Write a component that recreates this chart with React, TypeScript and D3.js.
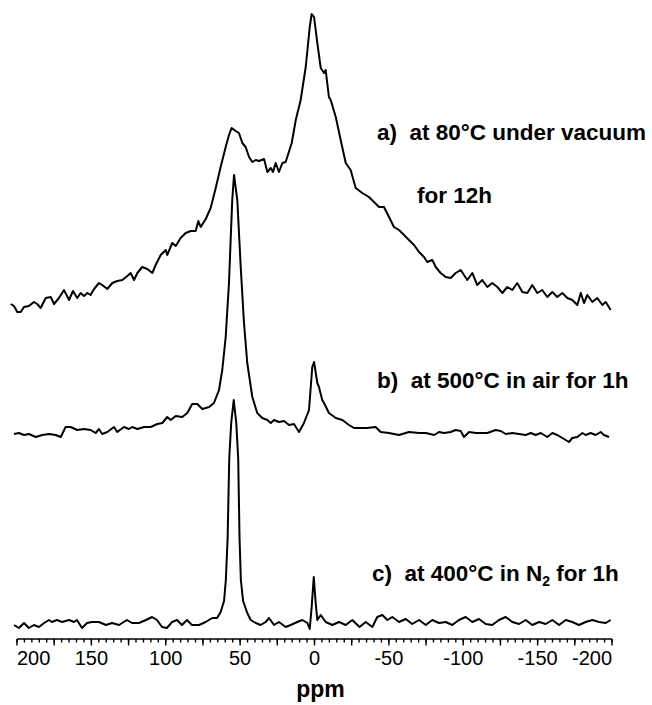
import React, { useEffect } from 'react';
import * as d3 from 'd3';

const WIDTH = 652;
const HEIGHT = 705;

// axis ticks (ppm)
const tickLabels = [200, 150, 100, 50, 0, -50, -100, -150, -200];
const majorTicks = d3.range(200, -201, -25);
const minorTicks = d3.range(200, -201, -5);

// vertical stacking offsets of the three spectra (a.u.)
const offsetA = 330;
const offsetB = 206;
const offsetC = 16;

// a) 80°C under vacuum, 12h  [ppm, intensity]
const specA: [number, number][] = [
  [204.2, 5], [202, 3], [199.8, -3], [197.5, -3], [195.3, 2], [192, 3], [188.6, 7], [186.4, 5], [184.1, 1],
  [180.7, 11], [177.3, 12], [175.1, 5], [171.8, 11], [168.4, 19], [165, 9], [162.4, 18], [159.5, 11],
  [157.2, 16], [155, 13], [152.7, 16], [150.5, 14], [148.2, 20], [144.9, 26], [142.7, 24], [139.3, 20],
  [135.9, 26], [132.6, 28], [129.2, 29], [125.8, 33], [123.6, 36], [121.3, 29], [119.1, 36], [115.8, 42],
  [112.4, 40], [109, 36], [106.8, 44], [103.4, 54], [100, 59], [99, 54], [95.6, 66], [93.3, 63], [90, 71],
  [86.6, 76], [83.2, 78], [79.9, 78], [78.1, 88], [76.5, 82], [73.1, 90], [69.8, 101], [66.4, 121],
  [63.1, 142], [59.7, 162], [57.5, 174], [55.7, 181], [53, 178], [50.8, 176], [48.5, 166], [46.3, 162],
  [44, 152], [41.8, 147], [39.5, 149], [37.3, 148], [33.9, 150], [31.7, 137], [29.4, 141], [27.9, 137],
  [26.1, 146], [23.9, 137], [21.6, 146], [19.4, 147], [15.3, 166], [12.6, 189], [9.3, 209], [5.9, 242],
  [3.2, 282], [1.9, 295], [0.3, 292], [-1.9, 266], [-4.2, 241], [-6.4, 236], [-7.5, 239], [-9.7, 212],
  [-10.9, 209], [-14.3, 192], [-17.6, 169], [-21, 146], [-24.3, 139], [-27.7, 121], [-32.1, 116],
  [-36.6, 112], [-40, 107], [-43.4, 102], [-46.7, 102], [-50.1, 92], [-53.4, 82], [-56.8, 79], [-60.2, 74],
  [-63.5, 69], [-66.9, 64], [-70.3, 57], [-73.6, 52], [-75.8, 47], [-79.2, 49], [-81.5, 42], [-84.8, 36],
  [-88.2, 32], [-91.6, 31], [-94.9, 36], [-98.3, 39], [-100.5, 34], [-102.7, 29], [-106.1, 36],
  [-109.4, 24], [-112.8, 29], [-116.2, 22], [-119.5, 26], [-122.9, 22], [-126.3, 16], [-129.6, 22],
  [-133, 19], [-136.3, 26], [-139.7, 17], [-143.1, 16], [-146.4, 24], [-149.8, 16], [-153.1, 19],
  [-156.5, 12], [-159.9, 17], [-163.2, 12], [-166.6, 16], [-170, 11], [-173.3, 9], [-176.7, 4], [-179, 16],
  [-181.2, 6], [-183.4, 14], [-186.8, 7], [-190.1, 11], [-193.5, 4], [-195.8, 7], [-199.1, -1],
];

// b) 500°C in air, 1h
const specB: [number, number][] = [
  [202, -1], [198.7, 0], [195.3, -2], [192, -1], [187.4, -4], [183, -2], [178.5, -1], [174, -2], [170.6, -4],
  [167.3, 6], [163.9, 6], [159.5, 3], [155, 4], [150.5, 3], [147.1, 0], [144.9, 4], [142.7, -1], [139.3, 1],
  [134.8, 6], [132.6, 1], [128.1, 6], [124.7, 4], [122.5, 6], [119.1, 4], [114.6, 6], [110.1, 6],
  [105.7, 9], [102.3, 10], [99, 16], [96.7, 13], [93.3, 17], [88.9, 16], [85.5, 20], [82.2, 29], [78.8, 29],
  [75.4, 24], [70.9, 26], [67.6, 30], [64.2, 43], [62, 63], [59.7, 96], [57.5, 150], [55.3, 233],
  [54.1, 258], [51.9, 233], [49.6, 166], [47.4, 110], [45.2, 70], [41.8, 36], [38.5, 20], [35.1, 15],
  [31.7, 13], [29.4, 10], [27.2, 13], [23.9, 11], [20.5, 12], [17.1, 8], [13.8, 9], [10.4, 1], [7.1, 10],
  [3.7, 23], [1.5, 66], [0.3, 71], [-1.9, 50], [-3, 46], [-5.2, 33], [-6.4, 30], [-9.7, 20], [-14.3, 15],
  [-18.7, 13], [-23.2, 8], [-26.6, 5], [-31.1, 5], [-35.3, 5], [-41.1, 6], [-44.5, 1], [-50.1, 0],
  [-56.8, -2], [-63.5, 1], [-70.3, 0], [-74.8, 0], [-80.5, -2], [-83.7, 1], [-87.1, 0], [-91.6, 1],
  [-94.9, 3], [-98.3, 2], [-100.5, -4], [-103.9, 1], [-108.4, 0], [-112.8, 0], [-116.2, 0], [-121.8, 3],
  [-125.2, 2], [-128.5, -1], [-133, 0], [-137.5, -1], [-142, -2], [-145.4, 0], [-148.7, -2], [-152.1, 0],
  [-156.5, -4], [-159.9, 0], [-163.2, -2], [-166.6, -5], [-171.1, -9], [-173.3, -5], [-176.7, -4],
  [-180.1, 0], [-182.3, -2], [-185.7, 0], [-189, -2], [-192.4, 1], [-194.6, -2], [-198, -4],
];

// c) 400°C in N2, 1h
const specC: [number, number][] = [
  [202, -2], [198.7, -5], [195.3, 0], [192, -5], [188.6, -2], [185.2, -4], [181.8, 0], [178.5, 3], [176.5, 1],
  [173.1, 3], [169.7, 1], [165, 3], [161.7, 1], [159.7, 3], [156.3, -5], [152.9, 0], [149.6, 1], [144.9, 1],
  [140.2, -2], [136.1, 0], [131.4, -2], [126.1, 3], [122.7, 0], [118, 0], [113.3, 3], [109.2, 6],
  [105.9, 3], [102.5, -4], [99.2, -5], [95.8, 1], [92.4, 3], [89.1, -2], [85.7, 3], [82.4, -2], [77.6, -2],
  [73.2, 1], [68.7, 5], [65.5, 5], [63.1, 11], [60.8, 22], [59.6, 43], [58.4, 85], [57.3, 165], [56, 200],
  [54.3, 223], [52.6, 200], [51.3, 165], [50.4, 85], [49.5, 43], [48, 22], [45.2, 10], [42.9, 3],
  [39.5, 0], [36.2, -2], [32.8, 1], [30.6, 5], [27.2, -2], [23.9, 1], [19.4, -4], [16, -2], [11.6, 1],
  [8.2, 3], [4.8, 0], [3.2, -6], [1.9, 16], [0.5, 46], [-0.8, 20], [-1.9, 3], [-4.2, 8], [-7.5, 1],
  [-12, -2], [-16.5, 1], [-21, -2], [-25.4, 3], [-30.3, -4], [-34.4, 1], [-38.9, -4], [-42.2, 6],
  [-45.6, 8], [-49, 3], [-52.3, 6], [-56.8, 1], [-61.3, 4], [-65.7, -1], [-70.3, 3], [-74.8, -2],
  [-79.2, 3], [-83.7, 0], [-88.2, 1], [-92.6, -2], [-97.1, 3], [-101.6, 6], [-106.1, 1], [-110.6, 4],
  [-115.1, -1], [-119.5, -2], [-124, 3], [-128.5, 6], [-133, 1], [-137.5, -1], [-142, 3], [-146.4, -2],
  [-151, 1], [-155.4, -1], [-159.9, 3], [-164.4, -2], [-168.9, 3], [-173.3, 1], [-177.8, -2], [-182.3, 1],
  [-186.8, 3], [-191.3, 1], [-195.8, 0], [-199.1, 3],
];

const FONT = "'Liberation Sans', Arial, Helvetica, sans-serif";

export default function App() {
  useEffect(() => {
    document.body.style.margin = '0';
  }, []);

  const axisY = 639;
  const x = d3.scaleLinear().domain([200, -200]).range([17, 612]);
  const y = d3.scaleLinear().domain([0, 640]).range([axisY, axisY - 640]);

  const lineFor = (offset: number) =>
    d3
      .line<[number, number]>()
      .x((d) => x(d[0]))
      .y((d) => y(d[1] + offset));

  const series = [
    { data: specA, offset: offsetA },
    { data: specB, offset: offsetB },
    { data: specC, offset: offsetC },
  ];

  const labelStyle: React.CSSProperties = { whiteSpace: 'pre' };

  return (
    <svg width={WIDTH} height={HEIGHT} style={{ display: 'block', background: '#fff' }}>
      <rect width={WIDTH} height={HEIGHT} fill="#fff" />
      {series.map((s, i) => (
        <path
          key={i}
          d={lineFor(s.offset)(s.data) || ''}
          fill="none"
          stroke="#000"
          strokeWidth={2}
          strokeLinejoin="round"
        />
      ))}

      {/* x axis */}
      <g stroke="#000" strokeWidth={1.4}>
        <line x1={x(200)} x2={x(-200)} y1={axisY} y2={axisY} />
        {minorTicks.map((t) => (
          <line key={'m' + t} x1={x(t)} x2={x(t)} y1={axisY} y2={axisY + 3.5} />
        ))}
        {majorTicks.map((t) => (
          <line key={'M' + t} x1={x(t)} x2={x(t)} y1={axisY} y2={axisY + 6.5} />
        ))}
      </g>
      <g fontFamily={FONT} fontSize={20} fill="#000">
        {tickLabels.map((t, i) => (
          <text
            key={t}
            x={x(t)}
            y={665}
            textAnchor={i === 0 ? 'start' : i === tickLabels.length - 1 ? 'end' : 'middle'}
          >
            {t}
          </text>
        ))}
      </g>
      <text x={x(0) + 6} y={697} textAnchor="middle" fontFamily={FONT} fontSize={23} fontWeight="bold">
        ppm
      </text>

      {/* sample labels */}
      <g fontFamily={FONT} fontSize={22.5} fontWeight="bold" fill="#000">
        <text x={377} y={140} style={labelStyle} xmlSpace="preserve">
          {'a)  at 80°C under vacuum'}
        </text>
        <text x={417} y={203} style={labelStyle}>
          for 12h
        </text>
        <text x={377} y={388} style={labelStyle} xmlSpace="preserve">
          {'b)  at 500°C in air for 1h'}
        </text>
        <text x={372} y={581} style={labelStyle} xmlSpace="preserve">
          {'c)  at 400°C in N'}
          <tspan fontSize={14} dy={5}>
            2
          </tspan>
          <tspan dy={-5}>{' for 1h'}</tspan>
        </text>
      </g>
    </svg>
  );
}
